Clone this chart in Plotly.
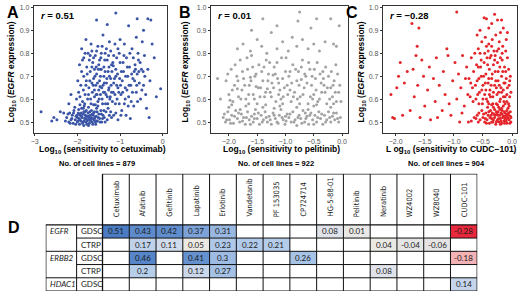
import plotly.graph_objects as go

# ---------------- scatter data ----------------
A_pts = [
(-2.25,0.52),(-2.2,0.50),(-2.18,0.54),(-2.15,0.51),(-2.12,0.53),(-2.1,0.495),(-2.08,0.55),(-2.05,0.51),(-2.03,0.525),(-2.0,0.50),
(-1.98,0.54),(-1.96,0.515),(-1.95,0.49),(-1.93,0.53),(-1.92,0.505),(-1.9,0.56),(-1.89,0.52),(-1.87,0.50),(-1.86,0.535),(-1.85,0.485),
(-1.83,0.515),(-1.82,0.545),(-1.8,0.50),(-1.79,0.525),(-1.78,0.49),(-1.76,0.51),(-1.75,0.54),(-1.73,0.52),(-1.72,0.495),(-1.7,0.53),
(-1.69,0.505),(-1.67,0.55),(-1.66,0.515),(-1.64,0.49),(-1.63,0.53),(-1.61,0.51),(-1.6,0.545),(-1.58,0.50),(-1.56,0.525),(-1.55,0.56),
(-1.53,0.505),(-1.5,0.535),(-1.48,0.515),(-1.45,0.55),(-1.43,0.50),(-1.4,0.53),(-1.37,0.52),(-1.33,0.545),(-1.3,0.51),(-1.25,0.53),
(-2.32,0.54),(-2.28,0.505),(-1.94,0.575),(-1.84,0.57),(-1.74,0.565),(-1.62,0.575),(-1.52,0.57),(-2.06,0.565),(-1.2,0.52),(-1.1,0.54),
(-2.22,0.535),(-2.17,0.495),(-2.13,0.515),(-2.09,0.54),(-2.04,0.49),(-2.01,0.53),(-1.99,0.505),(-1.97,0.555),(-1.94,0.51),(-1.91,0.54),
(-1.88,0.495),(-1.86,0.56),(-1.84,0.505),(-1.81,0.53),(-1.79,0.55),(-1.77,0.505),(-1.74,0.485),(-1.71,0.545),(-1.68,0.52),(-1.65,0.50),
(-1.62,0.54),(-1.59,0.52),(-1.57,0.49),(-1.54,0.545),(-1.51,0.52),(-1.47,0.50),(-1.44,0.535),(-1.41,0.515),(-1.38,0.55),(-1.35,0.50),
(-1.9,0.525),(-1.8,0.515),(-1.7,0.51),(-1.85,0.545),(-1.75,0.525),(-1.65,0.535),(-1.95,0.535),(-2.0,0.52),(-1.6,0.515),(-1.55,0.505),
(-1.28,0.56),(-1.22,0.545),(-1.15,0.53),(-1.05,0.51),(-0.98,0.53),
(-2.02,0.60),(-1.97,0.63),(-1.92,0.66),(-1.88,0.59),(-1.85,0.70),(-1.82,0.62),(-1.79,0.68),(-1.76,0.60),(-1.73,0.65),(-1.7,0.72),
(-1.68,0.58),(-1.65,0.63),(-1.62,0.69),(-1.6,0.61),(-1.57,0.66),(-1.55,0.71),(-1.52,0.59),(-1.5,0.64),(-1.48,0.68),(-1.46,0.62),
(-1.44,0.73),(-1.42,0.60),(-1.4,0.66),(-1.38,0.70),(-1.36,0.63),(-1.34,0.58),(-1.32,0.67),(-1.3,0.61),(-1.28,0.72),(-1.26,0.65),
(-1.24,0.60),(-1.22,0.69),(-1.2,0.63),(-1.18,0.59),(-1.15,0.67),(-1.12,0.62),(-1.1,0.70),(-1.07,0.60),(-1.05,0.65),(-1.02,0.58),
(-1.6,0.64),(-1.66,0.67),(-1.54,0.62),(-1.47,0.655),(-1.58,0.575),
(-1.99,0.68),(-1.94,0.61),(-1.9,0.72),(-1.86,0.64),(-1.83,0.58),(-1.8,0.66),(-1.77,0.71),(-1.74,0.62),(-1.71,0.68),(-1.69,0.60),
(-1.66,0.74),(-1.63,0.66),(-1.59,0.70),(-1.56,0.62),(-1.53,0.67),(-1.51,0.73),(-1.49,0.60),(-1.46,0.70),(-1.43,0.65),(-1.41,0.58),
(-1.39,0.63),(-1.37,0.67),(-1.35,0.72),(-1.33,0.62),(-1.31,0.69),(-1.29,0.58),(-1.27,0.64),(-1.25,0.70),(-1.23,0.61),(-1.21,0.66),
(-1.19,0.72),(-1.16,0.63),(-1.13,0.69),(-1.11,0.58),(-1.08,0.66),(-1.06,0.71),(-1.03,0.63),(-1.01,0.69),(-0.99,0.66),(-0.97,0.72),
(-1.95,0.75),(-1.9,0.82),(-1.85,0.78),(-1.78,0.74),(-1.75,0.80),(-1.72,0.77),(-1.68,0.84),(-1.64,0.76),(-1.6,0.73),(-1.58,0.79),
(-1.55,0.81),(-1.5,0.75),(-1.45,0.78),(-1.42,0.83),(-1.38,0.74),(-1.35,0.80),(-1.3,0.77),(-1.25,0.85),(-1.2,0.75),(-1.15,0.79),
(-1.1,0.73),(-1.05,0.82),(-1.0,0.76),(-1.8,0.86),(-1.4,0.88),
(-1.88,0.77),(-1.82,0.80),(-1.7,0.79),(-1.66,0.81),(-1.62,0.78),(-1.52,0.83),(-1.48,0.77),(-1.44,0.80),(-1.36,0.77),(-1.32,0.82),
(-1.27,0.79),(-1.22,0.81),(-1.17,0.76),(-1.12,0.84),(-1.08,0.78),(-1.02,0.80),(-1.56,0.74),(-1.46,0.73),(-1.26,0.74),(-1.16,0.745),
(-0.98,0.62),(-0.95,0.68),(-0.92,0.72),(-0.9,0.58),(-0.88,0.65),(-0.85,0.78),(-0.82,0.70),(-0.8,0.61),(-0.78,0.74),(-0.75,0.66),
(-0.72,0.82),(-0.7,0.69),(-0.68,0.57),(-0.65,0.75),(-0.62,0.63),(-0.6,0.71),(-0.58,0.80),(-0.55,0.67),(-0.52,0.60),(-0.5,0.73),
(-0.48,0.85),(-0.45,0.66),(-0.42,0.70),(-0.4,0.62),(-0.96,0.55),(-0.86,0.53),(-0.76,0.515),(-1.0,0.86),(-0.9,0.84),(-0.62,0.87),
(-0.57,0.77),(-0.67,0.72),(-0.84,0.64),(-0.74,0.59),(-0.93,0.76),
(-0.94,0.63),(-0.91,0.79),(-0.87,0.70),(-0.83,0.74),(-0.79,0.66),(-0.77,0.80),(-0.73,0.71),(-0.71,0.63),(-0.69,0.78),(-0.66,0.68),
(-0.64,0.73),(-0.61,0.66),(-0.59,0.59),(-0.56,0.72),(-0.53,0.76),(-0.49,0.64),(-0.46,0.72),(-0.43,0.79),(-0.88,0.60),(-0.81,0.57),
(-0.35,0.73),(-0.3,0.68),(-0.25,0.84),(-0.2,0.78),(-0.15,0.61),(-0.38,0.56),(-0.32,0.52),(-0.05,0.645),(-0.35,0.95),(-0.28,0.945),
(-0.6,0.95),(-1.1,0.975),(-1.55,0.945),(-1.3,0.925),(-0.8,0.92),(-0.45,0.9),(-2.85,0.545),(-2.55,0.52),(-2.48,0.51),(-2.4,0.545),
(-2.6,0.505),(-2.2,0.58),(-2.15,0.62),
]
B_pts = [
(-2.1,0.52),(-2.06,0.50),(-2.02,0.545),(-1.99,0.51),(-1.95,0.53),(-1.92,0.495),(-1.88,0.55),(-1.85,0.515),(-1.81,0.50),(-1.78,0.535),
(-1.74,0.52),(-1.71,0.49),(-1.67,0.545),(-1.64,0.51),(-1.6,0.525),(-1.57,0.50),(-1.53,0.555),(-1.5,0.515),(-1.46,0.49),(-1.43,0.53),
(-1.39,0.51),(-1.36,0.545),(-1.32,0.50),(-1.29,0.525),(-1.25,0.49),(-1.22,0.54),(-1.18,0.515),(-1.15,0.50),(-1.11,0.53),(-1.08,0.555),
(-1.04,0.51),(-1.01,0.49),(-0.97,0.535),(-0.94,0.52),(-0.9,0.50),(-0.87,0.545),(-0.83,0.51),(-0.8,0.485),(-0.76,0.53),(-0.73,0.515),
(-0.69,0.55),(-0.66,0.50),(-0.62,0.525),(-0.59,0.49),(-0.55,0.54),(-0.52,0.51),(-0.48,0.53),(-0.45,0.50),(-0.41,0.545),(-0.38,0.515),
(-0.34,0.49),(-0.31,0.53),(-0.27,0.51),(-0.24,0.545),(-0.2,0.50),(-0.17,0.525),(-0.13,0.51),(-0.1,0.54),(-0.06,0.50),(-0.03,0.52),
(-2.0,0.565),(-1.7,0.57),(-1.4,0.565),(-1.1,0.57),(-0.8,0.565),(-0.5,0.57),(-0.2,0.565),(-1.55,0.535),(-1.0,0.525),(-0.65,0.54),
(-2.08,0.535),(-2.04,0.51),(-1.97,0.495),(-1.9,0.525),(-1.83,0.54),(-1.76,0.505),(-1.69,0.52),(-1.62,0.49),(-1.55,0.515),(-1.48,0.54),
(-1.41,0.5),(-1.34,0.52),(-1.27,0.51),(-1.2,0.53),(-1.13,0.495),(-1.06,0.52),(-0.99,0.505),(-0.92,0.535),(-0.85,0.5),(-0.78,0.52),
(-0.71,0.495),(-0.64,0.515),(-0.57,0.53),(-0.5,0.49),(-0.43,0.52),(-0.36,0.535),(-0.29,0.5),(-0.22,0.52),(-0.15,0.54),(-0.08,0.515),
(-1.95,0.575),(-1.65,0.58),(-1.35,0.575),(-1.05,0.58),(-0.75,0.58),(-0.45,0.575),(-0.15,0.58),(-1.8,0.555),(-1.2,0.56),(-0.6,0.555),
(-2.05,0.68),(-2.0,0.62),(-1.96,0.73),(-1.93,0.59),(-1.9,0.66),(-1.86,0.70),(-1.83,0.61),(-1.8,0.77),(-1.77,0.64),(-1.74,0.69),
(-1.7,0.60),(-1.67,0.73),(-1.64,0.66),(-1.6,0.79),(-1.57,0.62),(-1.54,0.70),(-1.5,0.58),(-1.47,0.75),(-1.44,0.65),(-1.4,0.68),
(-1.37,0.61),(-1.34,0.77),(-1.3,0.71),(-1.27,0.63),(-1.24,0.67),(-1.2,0.74),(-1.17,0.59),(-1.14,0.69),(-1.1,0.64),(-1.07,0.78),
(-1.04,0.61),(-1.0,0.72),(-0.97,0.66),(-0.94,0.70),(-0.9,0.59),(-0.87,0.75),(-0.84,0.63),(-0.8,0.68),(-0.77,0.72),(-0.74,0.61),
(-0.7,0.77),(-0.67,0.65),(-0.64,0.70),(-0.6,0.58),(-0.57,0.73),(-0.54,0.66),(-0.5,0.62),(-0.47,0.69),(-0.44,0.76),(-0.4,0.60),
(-0.37,0.67),(-0.34,0.72),(-0.3,0.63),(-0.27,0.58),(-0.24,0.70),(-0.2,0.65),(-0.17,0.61),(-0.14,0.68),(-0.1,0.59),(-0.06,0.63),
(-1.85,0.645),(-1.62,0.695),(-1.32,0.645),(-1.12,0.62),(-0.92,0.64),(-0.72,0.685),(-0.52,0.60),(-0.32,0.66),(-1.52,0.655),(-1.22,0.705),
(-2.2,0.69),(-2.15,0.60),
(-2.02,0.71),(-1.98,0.595),(-1.94,0.64),(-1.89,0.75),(-1.84,0.68),(-1.79,0.60),(-1.76,0.72),(-1.72,0.66),(-1.68,0.78),(-1.65,0.62),
(-1.61,0.68),(-1.58,0.74),(-1.55,0.60),(-1.52,0.71),(-1.48,0.65),(-1.45,0.61),(-1.42,0.72),(-1.38,0.74),(-1.35,0.63),(-1.31,0.68),
(-1.28,0.76),(-1.25,0.61),(-1.21,0.65),(-1.18,0.71),(-1.15,0.76),(-1.12,0.67),(-1.08,0.60),(-1.05,0.69),(-1.02,0.65),(-0.99,0.78),
(-0.96,0.62),(-0.92,0.72),(-0.89,0.67),(-0.86,0.61),(-0.82,0.73),(-0.79,0.60),(-0.76,0.66),(-0.72,0.74),(-0.69,0.62),(-0.66,0.71),
(-0.62,0.67),(-0.59,0.76),(-0.56,0.61),(-0.53,0.70),(-0.49,0.73),(-0.46,0.64),(-0.43,0.59),(-0.39,0.71),(-0.36,0.63),(-0.33,0.69),
(-0.29,0.74),(-0.26,0.65),(-0.22,0.60),(-0.19,0.72),(-0.16,0.66),(-0.12,0.63),(-0.08,0.71),(-0.04,0.66),(-0.02,0.59),(-0.11,0.75),
(-1.85,0.82),(-1.75,0.84),(-1.62,0.81),(-1.5,0.86),(-1.42,0.83),(-1.33,0.80),(-1.25,0.89),(-1.15,0.82),(-1.05,0.85),(-0.95,0.81),
(-0.88,0.87),(-0.8,0.83),(-0.7,0.86),(-0.6,0.82),(-0.5,0.84),(-0.4,0.81),(-0.3,0.85),(-0.15,0.84),(-0.1,0.83),(-1.6,0.90),
(-1.15,0.92),(-0.75,0.98),(-0.78,0.94),(-0.45,0.95),(-0.2,0.95),(-0.55,0.91),(-1.4,0.95),(-0.05,0.92),
]
C_pts = [
(-0.5,0.52),(-0.47,0.50),(-0.45,0.54),(-0.43,0.51),(-0.41,0.53),(-0.39,0.495),(-0.37,0.55),(-0.35,0.515),(-0.33,0.50),(-0.31,0.535),
(-0.3,0.52),(-0.28,0.49),(-0.27,0.545),(-0.25,0.51),(-0.24,0.53),(-0.22,0.50),(-0.21,0.555),(-0.2,0.515),(-0.18,0.495),(-0.17,0.535),
(-0.16,0.52),(-0.14,0.505),(-0.13,0.545),(-0.12,0.51),(-0.1,0.53),(-0.09,0.495),(-0.08,0.52),(-0.06,0.54),(-0.05,0.51),(-0.03,0.525),
(-0.02,0.50),(-0.36,0.53),(-0.26,0.505),(-0.19,0.54),(-0.11,0.515),(-0.23,0.565),(-0.15,0.57),(-0.07,0.56),(-0.32,0.565),(-0.42,0.565),
(-0.55,0.51),(-0.6,0.53),(-0.58,0.50),(-0.65,0.52),(-0.7,0.505),
(-0.49,0.535),(-0.46,0.515),(-0.44,0.495),(-0.4,0.545),(-0.38,0.52),(-0.34,0.54),(-0.32,0.51),(-0.29,0.53),(-0.27,0.50),(-0.24,0.545),
(-0.23,0.515),(-0.21,0.53),(-0.19,0.505),(-0.17,0.55),(-0.15,0.525),(-0.13,0.495),(-0.12,0.54),(-0.1,0.505),(-0.09,0.55),(-0.07,0.515),
(-0.06,0.53),(-0.04,0.495),(-0.03,0.545),(-0.02,0.52),(-0.35,0.50),(-0.26,0.535),(-0.2,0.49),(-0.14,0.525),(-0.08,0.535),(-0.11,0.52),
(-0.3,0.555),(-0.25,0.575),(-0.18,0.56),(-0.12,0.58),(-0.05,0.57),(-0.4,0.58),(-0.35,0.575),(-0.52,0.55),(-0.57,0.54),(-0.62,0.515),
(-0.62,0.60),(-0.6,0.68),(-0.58,0.74),(-0.56,0.63),(-0.55,0.80),(-0.53,0.70),(-0.51,0.58),(-0.5,0.66),(-0.48,0.76),(-0.47,0.62),
(-0.45,0.71),(-0.44,0.83),(-0.42,0.59),(-0.41,0.67),(-0.39,0.73),(-0.38,0.64),(-0.36,0.79),(-0.35,0.69),(-0.33,0.61),(-0.32,0.75),
(-0.3,0.66),(-0.29,0.72),(-0.27,0.58),(-0.26,0.81),(-0.24,0.68),(-0.23,0.63),(-0.21,0.74),(-0.2,0.60),(-0.18,0.70),(-0.17,0.77),
(-0.15,0.64),(-0.14,0.59),(-0.12,0.67),(-0.11,0.72),(-0.09,0.62),(-0.08,0.78),(-0.06,0.58),(-0.05,0.66),(-0.04,0.61),(-0.03,0.70),
(-0.66,0.72),(-0.68,0.65),(-0.7,0.78),(-0.72,0.61),(-0.74,0.69),(-0.46,0.87),(-0.4,0.84),(-0.34,0.86),(-0.28,0.88),(-0.22,0.85),
(-0.16,0.83),(-0.1,0.86),(-0.52,0.85),(-0.58,0.82),(-0.37,0.61),(-0.25,0.76),(-0.43,0.78),(-0.31,0.81),(-0.19,0.65),(-0.13,0.74),
(-0.63,0.66),(-0.61,0.75),(-0.59,0.62),(-0.57,0.69),(-0.54,0.74),(-0.52,0.64),(-0.49,0.70),(-0.46,0.67),(-0.44,0.60),(-0.42,0.75),
(-0.4,0.69),(-0.38,0.78),(-0.36,0.66),(-0.34,0.71),(-0.32,0.63),(-0.3,0.77),(-0.28,0.68),(-0.26,0.62),(-0.24,0.72),(-0.22,0.66),
(-0.2,0.78),(-0.18,0.63),(-0.16,0.72),(-0.14,0.67),(-0.12,0.61),(-0.1,0.69),(-0.08,0.65),(-0.06,0.73),(-0.04,0.68),(-0.02,0.63),
(-0.47,0.80),(-0.41,0.81),(-0.35,0.83),(-0.29,0.79),(-0.23,0.82),(-0.17,0.80),(-0.11,0.81),(-0.53,0.77),(-0.64,0.80),(-0.5,0.60),
(-0.45,0.64),(-0.39,0.62),(-0.33,0.58),(-0.27,0.65),(-0.21,0.59),(-0.15,0.61),(-0.09,0.59),(-0.57,0.58),(-0.67,0.59),(-0.71,0.67),
(-0.48,0.955),(-0.44,0.95),(-0.35,0.93),(-0.25,0.945),(-0.18,0.945),(-0.55,0.90),(-0.15,0.91),(-0.3,0.97),(-0.6,0.88),(-0.08,0.89),
(-0.4,0.91),(-0.2,0.89),
(-2.08,0.62),(-2.05,0.52),(-2.02,0.515),(-1.98,0.65),(-1.92,0.76),(-1.88,0.53),(-1.85,0.67),(-1.8,0.72),(-1.75,0.55),(-1.72,0.93),
(-1.7,0.73),(-1.68,0.61),(-1.65,0.79),(-1.62,0.66),(-1.6,0.91),(-1.58,0.52),(-1.55,0.77),(-1.52,0.70),(-1.5,0.57),(-1.45,0.64),
(-1.42,0.74),(-1.4,0.51),(-1.35,0.69),(-1.32,0.59),(-1.3,0.78),(-1.25,0.66),(-1.2,0.55),(-1.18,0.72),(-1.15,0.62),(-1.1,0.79),
(-1.05,0.53),(-1.02,0.68),(-0.98,0.76),(-0.95,0.60),(-0.92,0.71),(-0.9,0.50),(-0.88,0.65),(-0.85,0.79),(-0.82,0.57),(-0.8,0.69),
(-0.78,0.74),(-0.76,0.62),(-0.95,0.98),(-1.63,0.83),(-1.12,0.82),(-1.08,0.58),(-0.86,0.54),(-0.75,0.50),(-1.28,0.52),(-1.95,0.70),
]

r_values = ["0.51", "0.01", "\u22120.28"]
drug_names = ["cetuximab", "pelitinib", "CUDC\u2212101"]
n_cell_lines = [879, 922, 904]
panel_colors = ["#3b55a6", "#a3a3a3", "#e3262b"]

# ---------------- table data ----------------
table_drugs = ["Cetuximab", "Afatinib", "Gefitinib", "Lapatinib", "Erlotinib", "Vandetanib",
               "PF 153035", "CP724714", "HG-5-88-01", "Pelitinib", "Neratinib", "WZ4002",
               "WZ8040", "CUDC-101"]
row_genes = ["EGFR", "", "ERBB2", "", "HDAC1"]
row_sources = ["GDSC", "CTRP", "GDSC", "CTRP", "GDSC"]
N = None
row_EGFR_GDSC = [0.51, 0.43, 0.42, 0.37, 0.31, N, N, N, 0.08, 0.01, N, N, N, -0.28]
row_EGFR_CTRP = [N, 0.17, 0.11, 0.05, 0.23, 0.22, 0.21, N, N, N, 0.04, -0.04, -0.06, N]
row_ERBB2_GDSC = [N, 0.46, N, 0.41, 0.3, N, N, 0.26, N, N, N, N, N, -0.18]
row_ERBB2_CTRP = [N, 0.2, N, 0.12, 0.27, N, N, N, N, N, 0.08, N, N, N]
row_HDAC1_GDSC = [N, N, N, N, N, N, N, N, N, N, N, N, N, 0.14]
table_z = [row_EGFR_GDSC, row_EGFR_CTRP, row_ERBB2_GDSC, row_ERBB2_CTRP, row_HDAC1_GDSC]

# ---------------- figure ----------------
W, H = 520, 296
def px(x): return x / W
def py(y): return 1 - y / H

FONT = "Liberation Sans"
TFONT = "Lato"
HFONT = "Liberation Sans Narrow, DejaVu Sans Condensed, Lato"
fig = go.Figure()

panel_dom_x = [(31, 165), (209, 347), (382, 517)]
panel_xrange = [(-3.02, 0.1), (-2.32, 0.105), (-2.22, 0.085)]
panel_xticks = [([-3, -2, -1, 0], ["\u22123", "\u22122", "\u22121", "0"]),
                ([-2, -1.5, -1, -0.5, 0], ["\u22122.0", "\u22121.5", "\u22121.0", "\u22120.5", "0.0"]),
                ([-2, -1.5, -1, -0.5, 0], ["\u22122.0", "\u22121.5", "\u22121.0", "\u22120.5", "0.0"])]
yt = [0.5, 0.6, 0.7, 0.8, 0.9, 1.0]
pts_all = [A_pts, B_pts, C_pts]
letters = ["A", "B", "C"]
letter_x = [2, 175, 343]
ytitle_x = [9, 184, 361]
layout = dict(width=W, height=H, margin=dict(l=0, r=0, t=0, b=0),
              paper_bgcolor="white", plot_bgcolor="white", showlegend=False)
annotations = []
for i in range(3):
    sfx = "" if i == 0 else str(i + 1)
    pts = pts_all[i]
    fig.add_trace(go.Scatter(x=[p[0] for p in pts], y=[p[1] for p in pts], mode="markers",
                             marker=dict(size=3, color=panel_colors[i]),
                             xaxis="x" + sfx, yaxis="y" + sfx, hoverinfo="skip"))
    d0, d1 = panel_dom_x[i]
    layout["xaxis" + sfx] = dict(domain=[px(d0), px(d1)], range=list(panel_xrange[i]),
                                 tickvals=panel_xticks[i][0], ticktext=panel_xticks[i][1],
                                 showline=True, mirror=True, linecolor="#333", linewidth=1,
                                 ticks="outside", ticklen=2, tickcolor="#333",
                                 tickfont=dict(size=7, color="#555", family=FONT),
                                 showgrid=False, zeroline=False, anchor="y" + sfx)
    layout["yaxis" + sfx] = dict(domain=[py(131.5), py(4)], range=[0.454, 1.006],
                                 tickvals=yt, ticktext=[f"{v:.1f}" for v in yt],
                                 showline=True, mirror=True, linecolor="#333", linewidth=1,
                                 ticks="outside", ticklen=2, tickcolor="#333",
                                 tickfont=dict(size=7, color="#555", family=FONT),
                                 showgrid=False, zeroline=False, anchor="x" + sfx)
    cx = (d0 + d1) / 2
    annotations.append(dict(text="<b>" + letters[i] + "</b>", x=px(letter_x[i]), y=py(11),
                            xref="paper", yref="paper", xanchor="left", yanchor="middle",
                            showarrow=False, font=dict(size=16, family=FONT, color="black")))
    annotations.append(dict(text="<b><i>r</i> = " + r_values[i] + "</b>", x=px(d0 + 5), y=py(13.5),
                            xref="paper", yref="paper", xanchor="left", yanchor="middle",
                            showarrow=False, font=dict(size=9.5, family=FONT, color="black")))
    annotations.append(dict(text="<b>Log<sub>10</sub> (<i>EGFR</i> expression)</b>", textangle=-90,
                            x=px(ytitle_x[i]), y=py(70), xref="paper", yref="paper",
                            xanchor="center", yanchor="middle", showarrow=False,
                            font=dict(size=8.5, family=FONT, color="black")))
    lg = "L og" if i == 2 else "Log"
    annotations.append(dict(text="<b>" + lg + "<sub>10</sub> (sensitivity to " + drug_names[i] + ")</b>",
                            x=px(cx + 2), y=py(149), xref="paper", yref="paper",
                            xanchor="center", yanchor="middle", showarrow=False,
                            font=dict(size=8.5, family=FONT, color="black")))
    annotations.append(dict(text="<b>No. of cell lines = " + str(n_cell_lines[i]) + "</b>",
                            x=px(cx - 3), y=py(163), xref="paper", yref="paper",
                            xanchor="center", yanchor="middle", showarrow=False,
                            font=dict(size=7.5, family=FONT, color="black")))

annotations.append(dict(text="<b>D</b>", x=px(3), y=py(227), xref="paper", yref="paper",
                        xanchor="left", yanchor="middle", showarrow=False,
                        font=dict(size=16, family=FONT, color="black")))

# table geometry (in drug-column units)
src_w, gene_w = 0.967, 1.153
x_src = -0.5 - src_w
x_gene = x_src - gene_w
x_right = len(table_drugs) - 0.5
n_rows = len(table_z)
y_hdr = -4.35
y_bot = n_rows - 0.5

zmin, zmax = -0.28, 0.51
stops = [(-0.28, "#e8293d"), (-0.18, "#f3b2b6"), (-0.06, "#e5e3e3"), (0.0, "#e8e8e8"),
         (0.05, "#ece9e2"), (0.08, "#e0e4ea"), (0.12, "#cbd8eb"), (0.2, "#b7ceea"),
         (0.3, "#9dbbe3"), (0.37, "#7ca2d8"), (0.42, "#5f8dcd"), (0.51, "#4a7bc3")]
cscale = [[(v - zmin) / (zmax - zmin), c] for v, c in stops]
fig.add_trace(go.Heatmap(z=table_z, x=list(range(len(table_drugs))), y=list(range(n_rows)),
                         colorscale=cscale, zmin=zmin, zmax=zmax, showscale=False,
                         xaxis="x4", yaxis="y4", hoverinfo="skip"))
for r, row in enumerate(table_z):
    for j, v in enumerate(row):
        if v is not None:
            annotations.append(dict(text=f"{v:g}", x=j, y=r, xref="x4", yref="y4",
                                    xanchor="center", yanchor="middle", showarrow=False,
                                    font=dict(size=8, family=TFONT, color="#1a1a1a")))
layout["xaxis4"] = dict(domain=[px(43), px(477)], range=[x_gene, x_right], visible=False,
                        anchor="y4", fixedrange=True)
layout["yaxis4"] = dict(domain=[py(291), py(173)], range=[y_bot, y_hdr], visible=False,
                        anchor="x4", fixedrange=True)

shapes = []
def ln(x0, y0, x1, y1, w=1):
    shapes.append(dict(type="line", xref="x4", yref="y4", x0=x0, y0=y0, x1=x1, y1=y1,
                       line=dict(color="#111", width=w)))
ln(-0.5, y_hdr, x_right, y_hdr, 1.3)
for k in range(len(table_drugs) + 1):
    ln(k - 0.5, y_hdr, k - 0.5, y_bot, 1.3 if k in (0, len(table_drugs)) else 1)
ln(x_gene, -0.5, x_gene, y_bot, 1.3)
ln(x_src, -0.5, x_src, y_bot, 1)
for r in range(n_rows + 1):
    yv = r - 0.5
    full = r == 0 or r == n_rows or row_genes[r] != ""
    ln(x_gene if full else x_src, yv, x_right, yv, 1.3 if r in (0, n_rows) else 1)

for j, name in enumerate(table_drugs):
    annotations.append(dict(text=name, textangle=-90, x=j, y=-0.95, xref="x4", yref="y4",
                            xanchor="center", yanchor="bottom", showarrow=False,
                            font=dict(size=7.5, family=HFONT, color="#1a1a1a")))
for r in range(n_rows):
    if row_genes[r]:
        annotations.append(dict(text="<i>" + row_genes[r] + "</i>", x=x_gene + 0.08, y=r,
                                xref="x4", yref="y4", xanchor="left", yanchor="middle",
                                showarrow=False, font=dict(size=8, family=TFONT, color="#1a1a1a")))
    annotations.append(dict(text=row_sources[r], x=x_src + 0.08, y=r, xref="x4", yref="y4",
                            xanchor="left", yanchor="middle", showarrow=False,
                            font=dict(size=8, family=TFONT, color="#1a1a1a")))

layout["annotations"] = annotations
layout["shapes"] = shapes
fig.update_layout(**layout)
fig.write_html("out.html", config={"displayModeBar": False},
               post_script="document.body.style.margin='0';document.body.style.padding='0';")
